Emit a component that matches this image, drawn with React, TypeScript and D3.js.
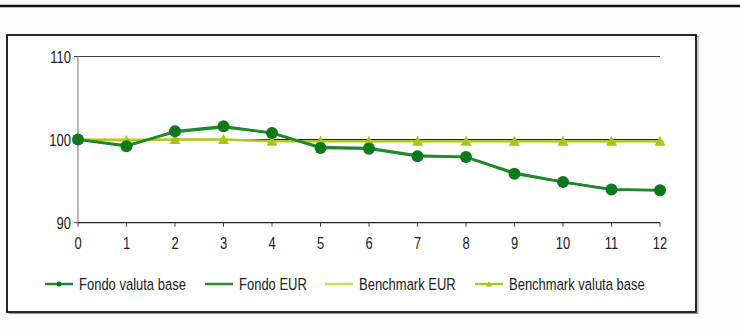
import * as d3 from "d3";

const months = [0, 1, 2, 3, 4, 5, 6, 7, 8, 9, 10, 11, 12];
const fondoValutaBase = [100, 99.2, 101.0, 101.6, 100.8, 99.0, 98.9, 98.0, 97.9, 95.9, 94.9, 94.0, 93.9];
const fondoEur = [100, 99.3, 100.9, 101.5, 100.8, 99.1, 99.0, 98.1, 97.9, 96.0, 94.9, 94.0, 93.9];
const benchmarkEur = [100, 100, 100, 100, 99.8, 99.8, 99.8, 99.8, 99.8, 99.8, 99.8, 99.8, 99.8];
const benchmarkValutaBase = [100, 99.9, 100, 100, 99.8, 99.8, 99.8, 99.8, 99.8, 99.8, 99.8, 99.8, 99.8];
const yTicks = [90, 100, 110];

const legendItems = [
  { label: "Fondo valuta base", color: "#1d8a2a", marker: "dot" },
  { label: "Fondo EUR", color: "#2f8a35", marker: "none" },
  { label: "Benchmark EUR", color: "#cfdc5a", marker: "none" },
  { label: "Benchmark valuta base", color: "#b0c81e", marker: "tri" },
] as const;

const font = "'Liberation Sans', Arial, sans-serif";

// the picture's text is stretched a bit vertically
function Label({ x, y, anchor, children }: { x: number; y: number; anchor?: "start" | "middle" | "end"; children: React.ReactNode }) {
  return (
    <text transform={`translate(${x},${y}) scale(1,1.3)`} textAnchor={anchor ?? "start"} fontSize={13} fill="#222">
      {children}
    </text>
  );
}

export default function App() {
  const width = 740;
  const height = 336;
  const x = d3.scaleLinear().domain([0, 12]).range([78, 660]);
  const y = d3.scaleLinear().domain([90, 110]).range([222.7, 56.5]);
  const line = (values: number[]) =>
    d3
      .line<number>()
      .x((_, i) => x(months[i]))
      .y((v) => y(v))(values) ?? "";
  const tri = (cx: number, cy: number, s: number) =>
    `M${cx},${cy - s} L${cx + s},${cy + s * 0.8} L${cx - s},${cy + s * 0.8} Z`;
  const legendX = [45, 205, 325, 475];

  return (
    <svg
      width={width}
      height={height}
      style={{ position: "absolute", left: 0, top: 0, background: "#fdfdfd" }}
      fontFamily={font}
    >
      <rect width={width} height={height} fill="#fdfdfd" />
      <line x1={0} x2={width} y1={6} y2={6} stroke="#111" strokeWidth={2.5} />
      <rect x={8} y={35.5} width={689} height={277} fill="#fff" stroke="#999" strokeWidth={1} transform="translate(1,1)" />
      <rect x={7} y={35} width={689} height={277} fill="#fff" stroke="#111" strokeWidth={1.8} />

      {yTicks.map((t) => (
        <g key={t}>
          {t !== 90 && (
            <line x1={x(0)} x2={x(12)} y1={y(t)} y2={y(t)} stroke={t === 110 ? "#444" : "#222"} strokeWidth={1.2} />
          )}
          <line x1={x(0) - 4} x2={x(0)} y1={y(t)} y2={y(t)} stroke="#444" />
          <Label x={x(0) - 7} y={y(t) + 6} anchor="end">
            {t}
          </Label>
        </g>
      ))}
      <line x1={x(0)} x2={x(0)} y1={y(110)} y2={y(90)} stroke="#888" strokeWidth={1.2} />
      <line x1={x(0)} x2={x(12)} y1={y(90)} y2={y(90)} stroke="#222" strokeWidth={1.2} />
      {months.map((m) => (
        <g key={m}>
          <line x1={x(m)} x2={x(m)} y1={y(90)} y2={y(90) + 4} stroke="#444" />
          <Label x={x(m)} y={y(90) + 26} anchor="middle">
            {m}
          </Label>
        </g>
      ))}

      <path d={line(benchmarkEur)} fill="none" stroke="#cfdc5a" strokeWidth={2.5} />
      <path d={line(benchmarkValutaBase)} fill="none" stroke="#b0c81e" strokeWidth={2} />
      {benchmarkValutaBase.map((v, i) => (
        <path key={i} d={tri(x(months[i]), y(v), 5.5)} fill="#a8c41a" />
      ))}
      <path d={line(fondoEur)} fill="none" stroke="#2f8a35" strokeWidth={2.5} />
      <path d={line(fondoValutaBase)} fill="none" stroke="#1d8a2a" strokeWidth={2.5} />
      {fondoValutaBase.map((v, i) => (
        <circle key={i} cx={x(months[i])} cy={y(v)} r={6} fill="#0c7a1c" />
      ))}

      {legendItems.map((item, i) => (
        <g key={item.label} transform={`translate(${legendX[i]}, 284)`}>
          <line x1={0} x2={28} y1={0} y2={0} stroke={item.color} strokeWidth={2.5} />
          {item.marker === "dot" && <circle cx={14} cy={0} r={2.5} fill="#0c7a1c" />}
          {item.marker === "tri" && <path d={tri(14, 0, 3)} fill="#a8c41a" />}
          <Label x={34} y={6}>
            {item.label}
          </Label>
        </g>
      ))}
    </svg>
  );
}
